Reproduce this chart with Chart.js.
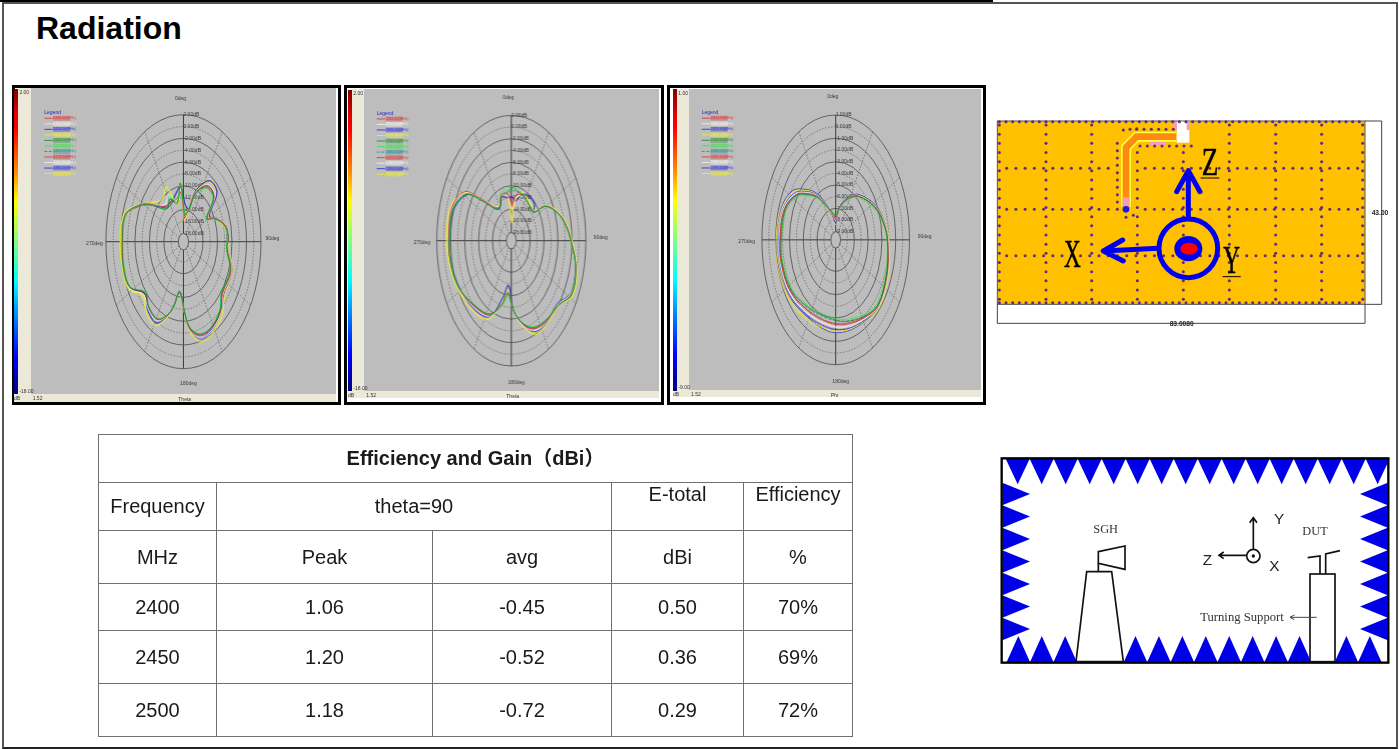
<!DOCTYPE html>
<html>
<head>
<meta charset="utf-8">
<title>Radiation</title>
<script src="https://cdn.jsdelivr.net/npm/chart.js@4"></script>
<style>
html, body { margin: 0; padding: 0; background: #fff; width: 1399px; height: 749px; overflow: hidden; }
body { position: relative; font-family: "Liberation Sans", Arial, sans-serif; color: #111; }
.abs { position: absolute; }
#title { left: 36px; top: 9px; font-size: 32px; font-weight: bold; line-height: 38px; color: #000; }
.box { position: absolute; border: 3px solid #000; box-sizing: border-box; background: #fff; }
.layer { position: absolute; filter: blur(0.5px); }
.cbar { position: absolute; background: linear-gradient(to bottom, #7f0000 0%, #e00000 8%, #ff0000 13%, #ff8000 26%, #ffff00 37%, #80ff80 50%, #00ffff 63%, #0080ff 75%, #0000ff 88%, #00007f 100%); }
.beige { position: absolute; background: #ece9d8; }
.grey { position: absolute; background: #bdbdbd; }
.tiny { position: absolute; font-size: 5px; line-height: 6px; color: #333; white-space: nowrap; }
canvas { position: absolute; }
#gainTable { position: absolute; left: 98px; top: 434px; width: 754px; height: 302px; border-collapse: collapse; table-layout: fixed; font-size: 20px; color: #1a1a1a; }
#gainTable td { border: 1px solid #707070; text-align: center; padding: 0; }
#gainTable td.up { vertical-align: top; padding-top: 0; }
#gainTable .head { font-weight: bold; font-family: "Liberation Sans", "Noto Sans CJK SC", sans-serif; padding-bottom: 4px; }
svg { position: absolute; filter: blur(0.45px); }
</style>
</head>
<body>
<div class="abs" style="left:0;top:0;width:993px;height:2px;background:#000"></div>
<div class="abs" style="left:2px;top:2px;width:1392px;height:743px;border:2px solid #555;border-bottom-color:#222;box-sizing:content-box"></div>
<div id="title" class="abs">Radiation</div>
<div id="panels"></div>
<table id="gainTable"></table>

<svg id="pcb" style="left:990px;top:110px" width="400" height="225" viewBox="0 0 1200 675"></svg>

<svg style="left:995px;top:450px" width="400" height="220" viewBox="0 0 1200 660">
  <g id="spikes" fill="#0000e6"></g>
  <rect x="20" y="25" width="1160" height="613" fill="none" stroke="#000" stroke-width="7"/>
  <g fill="#fff" stroke="#111" stroke-width="5">
    <polygon points="275,365 350,365 385,635 243,635"/>
    <polygon points="310,305 390,288 390,358 310,340"/>
    <rect x="945" y="372" width="75" height="263"/>
  </g>
  <g fill="none" stroke="#111" stroke-width="5">
    <path d="M310 340V365"/>
    <path d="M975 372V318L938 323M992 372V312L1035 302"/>
    <path d="M775 298V205M764 218L775 203L786 218M755 316H672M686 306L672 316L686 326"/>
    <circle cx="775" cy="318" r="20"/>
    <path d="M965 502H885M898 495L885 502L898 509" stroke-width="3" stroke="#444"/>
  </g>
  <circle cx="775" cy="318" r="5" fill="#111"/>
  <g font-family="Liberation Serif, serif" font-size="37" fill="#333" text-anchor="middle">
    <text x="332" y="250">SGH</text>
    <text x="960" y="256">DUT</text>
    <text x="741" y="512" font-size="38">Turning  Support</text>
  </g>
  <g font-family="Liberation Sans, sans-serif" font-size="46" fill="#222" text-anchor="middle">
    <text x="852" y="222">Y</text>
    <text x="637" y="346">Z</text>
    <text x="838" y="364">X</text>
  </g>
</svg>

<script>
// ===== Data =====
const freqLabels = ['2400.00(MHz)', '2410.00(MHz)', '2420.00(MHz)', '2430.00(MHz)', '2440.00(MHz)', '2450.00(MHz)', '2460.00(MHz)', '2470.00(MHz)', '2480.00(MHz)', '2490.00(MHz)', '2500.00(MHz)'];
const seriesColors = ['#e02828', '#f4f4f4', '#2020d8', '#f2f22a', '#0c8a1c', '#2ee83c', '#148c8c', '#e02828', '#f4f4f4', '#2020d8', '#f2f22a'];
const angleLabels = ['0deg', '90deg', '180deg', '270deg'];

const ringLabels1 = ['2.00dB', '0.00dB', '-2.00dB', '-4.00dB', '-6.00dB', '-8.00dB', '-10.00dB', '-12.00dB', '-14.00dB', '-16.00dB', '-18.00dB'];
const ringLabels3 = ['1.00dB', '0.00dB', '-1.00dB', '-2.00dB', '-3.00dB', '-4.00dB', '-5.00dB', '-6.00dB', '-7.00dB', '-8.00dB', '-9.00dB'];

// theta cut, phi = 0
const angles1 = [4, 15, 22, 35, 48, 59, 66, 77, 87, 95, 111, 129, 139, 153, 164, 173, 178, 187, 194, 200, 209, 221, 231, 242, 253, 269, 286, 296, 304, 320, 333, 345, 355];
const gain1_2400 = [-15.5, -13.5, -10.4, -7.8, -8, -11.6, -9.7, -7.5, -7.1, -7.3, -5.4, -5.5, -3.8, -2.8, -2.9, -4.5, -7.1, -10.7, -8.1, -6.2, -4.6, -4.9, -5.5, -2.9, -2.4, -2.6, -2.9, -5.8, -8.2, -11.6, -11.8, -12, -11];
const gain1_2410 = [-15.2, -13.6, -10.3, -7.6, -7.8, -11.5, -9.6, -7.5, -7.2, -7.2, -5.2, -5.3, -3.6, -2.5, -2.5, -4.3, -7, -10.6, -8, -6, -4.2, -4.5, -5.2, -2.6, -2.2, -2.3, -2.8, -5.7, -8.1, -11.4, -10.8, -12.2, -10.8];
const gain1_2420 = [-13, -13.7, -10.1, -6.9, -7, -11.2, -9.6, -7.6, -7.3, -7.2, -5.2, -5.2, -3.7, -2.7, -2.5, -4.4, -7.1, -10.9, -8.2, -6, -3.9, -4.4, -5.6, -2.9, -2.3, -2.5, -2.8, -5.5, -8, -12, -12.2, -11.2, -10.2];
const gain1_2430 = [-15.8, -13.8, -10.2, -7.1, -7.4, -11.4, -9.8, -7.8, -7.3, -7, -5.1, -5, -3.3, -2.2, -2.1, -4.1, -7, -10.8, -8.1, -5.7, -3.4, -3.9, -5, -2.4, -2, -2, -2.4, -5.4, -7.8, -10.2, -9.2, -12.8, -9.8];
const gain1_2440 = [-15, -14, -10.7, -8.2, -8.2, -11.9, -9.9, -7.6, -7, -7.4, -5.6, -5.8, -4, -3, -3.2, -4.8, -7.2, -10.8, -8, -6.1, -4.4, -4.7, -5.8, -2.8, -2.2, -2.4, -2.7, -5.6, -8.3, -12.2, -11.3, -12.8, -9.5];
const gain1_2450 = [-14.6, -14.2, -11, -8.4, -8.5, -12.1, -10, -7.7, -7.2, -7.5, -5.7, -5.9, -4.2, -3.1, -3.3, -4.9, -7.3, -10.9, -8.1, -6.2, -4.6, -4.8, -6, -3, -2.5, -2.7, -2.9, -5.7, -8.4, -12, -10.8, -12.5, -9.4];
const gain1_2460 = [-14.8, -13.9, -10.6, -8, -8.1, -11.8, -9.8, -7.5, -7, -7.4, -5.5, -5.7, -4, -3, -3.1, -4.7, -7.2, -10.8, -8, -6.1, -4.5, -4.8, -5.8, -2.9, -2.3, -2.5, -2.8, -5.7, -8.3, -12.1, -11.4, -12.6, -9.8];
const gain1_2470 = [-15.4, -13.7, -10.5, -7.9, -8, -11.7, -9.7, -7.5, -7.1, -7.3, -5.5, -5.6, -3.9, -2.9, -3, -4.6, -7.1, -10.7, -8.1, -6.2, -4.5, -4.8, -5.6, -2.8, -2.3, -2.5, -2.8, -5.8, -8.2, -11.8, -11.9, -12.3, -10.9];
const gain1_2480 = [-15.1, -13.6, -10.3, -7.7, -7.8, -11.6, -9.6, -7.6, -7.2, -7.2, -5.3, -5.4, -3.6, -2.6, -2.6, -4.4, -7.1, -10.6, -8, -6, -4.1, -4.4, -5.3, -2.7, -2.2, -2.3, -2.7, -5.6, -8.1, -11.2, -10.5, -12.4, -10.6];
const gain1_2490 = [-13.2, -13.8, -10, -6.8, -6.9, -11.1, -9.5, -7.7, -7.3, -7.1, -5.1, -5.1, -3.5, -2.4, -2.3, -4.3, -7.1, -11, -8.3, -5.9, -3.7, -4.2, -5.5, -2.7, -2.2, -2.4, -2.7, -5.5, -8, -11.6, -11.8, -11, -10];
const gain1_2500 = [-16, -14, -10.2, -6.6, -6.9, -11.2, -9.7, -7.9, -7.4, -6.9, -5, -4.8, -3, -1.9, -1.8, -3.9, -6.9, -10.9, -8.2, -5.6, -3.2, -3.6, -4.8, -2.2, -1.9, -1.9, -2.3, -5.3, -7.7, -10, -9, -13, -9.9];

const angles2 = [2, 10, 21, 33, 46, 53, 59, 70, 80, 92, 104, 118, 129, 144, 157, 168, 177, 186, 194, 206, 223, 242, 259, 274, 289, 302, 309, 326, 340, 352];
const gain2_2400 = [-13.6, -11.6, -11, -11.3, -11.4, -11.2, -7.9, -5.3, -3.5, -2, -0.3, 0.1, -2, -2.4, -3, -5, -7.4, -10.2, -8.2, -5.2, -4, -2.3, -1.5, -1.4, -1.5, -3.6, -7.8, -12.6, -11.3, -11.4];
const gain2_2410 = [-14, -11.9, -11.2, -11.2, -11.3, -11.1, -7.8, -5.2, -3.4, -1.9, -0.2, -0.1, -2.2, -2.1, -2.7, -4.8, -7.3, -10.1, -8.3, -5, -3.7, -2.2, -1.5, -1.4, -1.7, -3.9, -8, -12.4, -11.2, -11.6];
const gain2_2420 = [-11.8, -12.4, -11, -10.4, -10.3, -11.2, -7.9, -5.3, -3.5, -2, -0.4, -0.2, -2.4, -2.2, -2.6, -5, -7.5, -11.6, -9.2, -5, -3.6, -2.5, -1.7, -1.7, -2.2, -4.6, -8.4, -12.8, -11.4, -11.9];
const gain2_2430 = [-16, -12.2, -10.6, -10.9, -11, -10.9, -7.7, -5.1, -3.3, -1.8, -0.1, 0.5, -1.9, -1.9, -2.3, -4.7, -7.5, -10.9, -8.8, -4.6, -3.2, -2, -1.2, -0.9, -1.2, -3.9, -8.2, -12.5, -11, -11.5];
const gain2_2440 = [-10.2, -10.7, -10.9, -11.2, -11.5, -11.4, -8, -5.4, -3.6, -2, -0.3, 0.25, -1.9, -2.6, -3.3, -5.1, -7.4, -10.5, -8.3, -5.5, -4.2, -2.3, -1.55, -1.55, -1.9, -4.4, -8.5, -12.9, -11, -11];
const gain2_2450 = [-9.9, -10.5, -10.7, -11.3, -11.6, -11.5, -8.1, -5.5, -3.7, -2.1, -0.4, 0.15, -2, -2.7, -3.4, -5.2, -7.5, -9.9, -7.9, -5.4, -4.3, -2.4, -1.7, -1.7, -2, -4.5, -8.6, -12.7, -10.7, -10.6];
const gain2_2460 = [-10.8, -10.9, -10.9, -11.2, -11.4, -11.3, -8, -5.4, -3.6, -2, -0.3, 0.2, -1.9, -2.5, -3.2, -5.1, -7.4, -10.3, -8.2, -5.4, -4.1, -2.3, -1.6, -1.6, -1.8, -4.3, -8.4, -12.8, -11, -11.2];
const gain2_2470 = [-13, -11.4, -11, -11.2, -11.4, -11.2, -7.9, -5.3, -3.5, -2, -0.3, 0.15, -2, -2.4, -3.1, -5, -7.4, -10.3, -8.2, -5.3, -4, -2.3, -1.5, -1.4, -1.6, -3.8, -8, -12.7, -11.3, -11.3];
const gain2_2480 = [-14.2, -11.8, -11.2, -11.1, -11.3, -11, -7.8, -5.2, -3.4, -1.9, -0.2, 0, -2.1, -2.2, -2.8, -4.8, -7.3, -10.2, -8.3, -5.1, -3.8, -2.2, -1.4, -1.3, -1.6, -3.8, -8, -12.4, -11.2, -11.7];
const gain2_2490 = [-12, -12.6, -10.9, -10.2, -10.2, -11.1, -7.8, -5.2, -3.4, -1.9, -0.3, -0.1, -2.3, -2, -2.5, -4.9, -7.5, -11.8, -9.4, -4.9, -3.5, -2.4, -1.6, -1.6, -2.1, -4.5, -8.3, -12.9, -11.5, -12];
const gain2_2500 = [-16.4, -12.4, -10.5, -10.8, -10.9, -10.8, -7.6, -5, -3.2, -1.7, 0, 0.6, -1.8, -1.7, -2, -4.6, -7.6, -11, -8.9, -4.4, -3, -1.9, -1.1, -0.8, -1.1, -3.8, -8.1, -12.4, -10.9, -11.6];

// phi cut
const angles3 = [0, 8, 16, 28, 41, 64, 82, 95, 112, 132, 147, 169, 189, 214, 236, 255, 269, 289, 304, 316, 325, 333, 345];
const gain3_2400 = [-8, -7.3, -6.6, -5.7, -4.75, -3.3, -2.4, -2.05, -1.65, -1.35, -1.8, -2.3, -2.55, -2.4, -1.8, -1.55, -1.6, -1.8, -2.75, -4.2, -5.2, -6.25, -7.3];
const gain3_2410 = [-8.1, -7.35, -6.55, -5.6, -4.65, -3.25, -2.35, -2, -1.6, -1.25, -1.7, -2.05, -2.3, -2.15, -1.6, -1.4, -1.45, -1.65, -2.65, -4.1, -5.1, -6.2, -7.35];
const gain3_2420 = [-8.2, -7.3, -6.45, -5.5, -4.55, -3.2, -2.4, -2.1, -1.7, -1.3, -1.6, -1.9, -2.1, -2, -1.5, -1.35, -1.4, -1.6, -2.5, -3.95, -5, -6.1, -7.4];
const gain3_2430 = [-8, -7.25, -6.5, -5.55, -4.6, -3.2, -2.35, -2, -1.6, -1.25, -1.55, -1.8, -1.95, -1.75, -1.3, -1.2, -1.2, -1.45, -2.4, -3.85, -4.95, -6.05, -7.3];
const gain3_2440 = [-7.7, -7.1, -6.5, -5.6, -4.7, -3.35, -2.45, -2.1, -1.75, -1.42, -1.92, -2.57, -2.95, -2.7, -1.95, -1.7, -1.78, -1.95, -2.9, -4.35, -5.3, -6.3, -7.1];
const gain3_2450 = [-7.6, -7.2, -6.7, -5.8, -4.9, -3.5, -2.5, -2.2, -1.9, -1.6, -2.1, -2.75, -3.05, -2.8, -2.1, -1.8, -1.85, -2.05, -3.1, -4.5, -5.45, -6.4, -7.2];
const gain3_2460 = [-7.8, -7.2, -6.55, -5.65, -4.75, -3.4, -2.45, -2.15, -1.8, -1.45, -1.95, -2.6, -2.85, -2.6, -1.95, -1.7, -1.7, -1.9, -2.85, -4.3, -5.25, -6.25, -7.2];
const gain3_2470 = [-7.9, -7.2, -6.5, -5.65, -4.7, -3.3, -2.4, -2.05, -1.7, -1.35, -1.85, -2.4, -2.6, -2.45, -1.8, -1.6, -1.6, -1.8, -2.8, -4.25, -5.2, -6.2, -7.25];
const gain3_2480 = [-8, -7.25, -6.5, -5.55, -4.6, -3.2, -2.35, -2, -1.6, -1.3, -1.7, -2.15, -2.35, -2.2, -1.6, -1.35, -1.4, -1.55, -2.55, -4, -5.05, -6.1, -7.3];
const gain3_2490 = [-8.3, -7.4, -6.45, -5.5, -4.55, -3.1, -2.3, -2, -1.6, -1.25, -1.5, -1.7, -1.8, -1.9, -1.35, -1.15, -1.2, -1.35, -2.15, -3.7, -4.8, -5.95, -7.35];
const gain3_2500 = [-8.4, -7.45, -6.5, -5.45, -4.5, -3.05, -2.2, -1.9, -1.45, -1.1, -1.45, -1.75, -1.8, -1.6, -1.15, -1, -1.05, -1.3, -2.3, -3.8, -4.9, -6, -7.4];

const tableFreq = ['2400', '2450', '2500'];
const tablePeak = ['1.06', '1.20', '1.18'];
const tableAvg = ['-0.45', '-0.52', '-0.72'];
const tableTotal = ['0.50', '0.36', '0.29'];
const tableEff = ['70%', '69%', '72%'];

// ===== Panel geometry =====
const INNER = 0.694;              // hole radius, in ring widths
const RINGS = 10;
const RMAX = INNER + RINGS;

const panels = [
  { id: 'p1', box: [12, 85, 329, 320], bar: [14, 89, 4.4, 305], beige: 30.7, grey: [30.7, 88, 305.3, 306], strip: 402, center: [183.3, 241.7], radius: [77.7, 127], legend: [44, 112.7],
    angles: angles1, rows: [gain1_2400, gain1_2410, gain1_2420, gain1_2430, gain1_2440, gain1_2450, gain1_2460, gain1_2470, gain1_2480, gain1_2490, gain1_2500],
    rings: ringLabels1, maxDb: 2, step: 2, top: '2.00', bottom: '-18.00', axis: 'Theta' },
  { id: 'p2', box: [344, 85, 320, 320], bar: [348, 90, 4.3, 301], beige: 364.3, grey: [364.3, 89, 294.4, 302], strip: 398, center: [511.3, 240.7], radius: [74.5, 125.3], legend: [377, 113.3],
    angles: angles2, rows: [gain2_2400, gain2_2410, gain2_2420, gain2_2430, gain2_2440, gain2_2450, gain2_2460, gain2_2470, gain2_2480, gain2_2490, gain2_2500],
    rings: ringLabels1, maxDb: 2, step: 2, top: '2.00', bottom: '-18.00', axis: 'Theta' },
  { id: 'p3', box: [667, 85, 319, 320], bar: [673, 89, 4.3, 302], beige: 689, grey: [689, 88.7, 292, 301.3], strip: 397, center: [835.7, 239.7], radius: [73.8, 125], legend: [701.7, 112.3],
    angles: angles3, rows: [gain3_2400, gain3_2410, gain3_2420, gain3_2430, gain3_2440, gain3_2450, gain3_2460, gain3_2470, gain3_2480, gain3_2490, gain3_2500],
    rings: ringLabels3, maxDb: 1, step: 1, top: '1.00', bottom: '-9.00', axis: 'Phi' },
];

// ===== Helpers =====
function toRadius(db, panel) {
  return RMAX - (panel.maxDb - db) / panel.step;
}

function polarPoints(angles, row, panel) {
  const pts = angles.map((a, i) => {
    const r = toRadius(row[i], panel), t = a * Math.PI / 180;
    return { x: r * Math.sin(t), y: r * Math.cos(t) };
  });
  pts.push(pts[0]); // close the trace
  return pts;
}

function addDiv(parent, cls, x, y, w, h) {
  const d = document.createElement('div');
  d.className = cls;
  d.style.cssText = `left:${x}px;top:${y}px;width:${w}px;height:${h}px`;
  parent.appendChild(d);
  return d;
}

function addTiny(parent, text, x, y) {
  const d = document.createElement('div');
  d.className = 'tiny';
  d.textContent = text;
  d.style.left = x + 'px';
  d.style.top = y + 'px';
  parent.appendChild(d);
}

// ===== Polar grid, labels and legend on a cartesian chart =====
const polarGrid = {
  id: 'polarGrid',
  beforeDatasetsDraw(chart, args, opts) {
    const { ctx, scales: { x, y } } = chart;
    const cx = x.getPixelForValue(0), cy = y.getPixelForValue(0);
    const rx = x.getPixelForValue(1) - cx, ry = cy - y.getPixelForValue(1);
    ctx.save();
    // spokes
    for (let a = 0; a < 360; a += 30) {
      const t = a * Math.PI / 180, main = a % 90 === 0;
      ctx.beginPath();
      ctx.moveTo(cx + INNER * rx * Math.sin(t), cy - INNER * ry * Math.cos(t));
      ctx.lineTo(cx + RMAX * rx * Math.sin(t), cy - RMAX * ry * Math.cos(t));
      ctx.strokeStyle = main ? '#3c3c3c' : '#5e5e5e';
      ctx.lineWidth = main ? 1 : 0.7;
      ctx.setLineDash(main ? [] : [1.5, 1.5]);
      ctx.stroke();
    }
    // rings
    for (let k = 0; k <= RINGS; k++) {
      const solid = k % 2 === 0;
      ctx.beginPath();
      ctx.ellipse(cx, cy, (INNER + k) * rx, (INNER + k) * ry, 0, 0, Math.PI * 2);
      ctx.strokeStyle = solid ? '#4c4c4c' : '#5e5e5e';
      ctx.lineWidth = solid ? 0.8 : 0.7;
      ctx.setLineDash(solid ? [] : [1.5, 1.5]);
      ctx.stroke();
    }
    ctx.setLineDash([]);
    // ring and angle labels
    ctx.font = '5px "Liberation Sans"';
    ctx.fillStyle = '#3a3a3a';
    ctx.textBaseline = 'middle';
    ctx.textAlign = 'left';
    opts.rings.forEach((label, i) => {
      ctx.fillText(label, cx, cy - (RMAX - i) * ry);
    });
    ctx.textAlign = 'center';
    ctx.fillText(angleLabels[0], cx - 3, cy - 143);
    ctx.fillText(angleLabels[1], cx + 89, cy - 3);
    ctx.fillText(angleLabels[2], cx + 5, cy + 142);
    ctx.fillText(angleLabels[3], cx - 89, cy + 2);
    // legend
    const [lx, ly] = opts.legend;
    ctx.textAlign = 'left';
    ctx.fillStyle = '#2222cc';
    ctx.fillText('Legend', lx, ly);
    chart.data.datasets.forEach((ds, i) => {
      const row = ly + 5.6 + 5.53 * i;
      ctx.strokeStyle = ds.borderColor;
      ctx.lineWidth = 0.8;
      ctx.setLineDash(ds.borderDash || []);
      ctx.beginPath();
      ctx.moveTo(lx, row);
      ctx.lineTo(lx + 8.3, row);
      ctx.stroke();
      ctx.setLineDash([]);
      ctx.globalAlpha = 0.35;
      ctx.fillStyle = ds.borderColor;
      ctx.fillRect(lx + 8.7, row - 2.4, 17.3, 4.8);
      ctx.globalAlpha = 0.8;
      ctx.font = '3.6px "Liberation Sans"';
      ctx.fillText(ds.label, lx + 9, row);
      ctx.globalAlpha = 1;
      ctx.font = '5px "Liberation Sans"';
    });
    ctx.restore();
  },
};

// ===== Build the panels =====
const panelsEl = document.getElementById('panels');

panels.forEach(p => {
  const [bx, by, bw, bh] = p.box;
  const [gx, gy, gw, gh] = p.grey;
  const [cx, cy] = p.center;
  const [rx, ry] = p.radius;

  const box = document.createElement('div');
  box.className = 'box';
  box.style.cssText = `left:${bx}px;top:${by}px;width:${bw}px;height:${bh}px`;
  panelsEl.appendChild(box);

  const layer = document.createElement('div');
  layer.className = 'layer';
  layer.style.cssText = 'left:0;top:0;width:1399px;height:749px';
  panelsEl.appendChild(layer);

  addDiv(layer, 'beige', p.bar[0] + p.bar[2], gy, p.beige - p.bar[0] - p.bar[2], p.strip - gy);
  addDiv(layer, 'beige', p.bar[0], gy + gh, gx + gw - p.bar[0], p.strip - gy - gh);
  addDiv(layer, 'grey', gx, gy, gw, gh);
  addDiv(layer, 'cbar', p.bar[0], p.bar[1], p.bar[2], p.bar[3]);
  addTiny(layer, p.top, p.bar[0] + p.bar[2] + 1, gy + 1);
  addTiny(layer, p.bottom, p.bar[0] + p.bar[2] + 1, gy + gh - 6);
  addTiny(layer, 'dB', p.bar[0], gy + gh + 1);
  addTiny(layer, '1.52', gx + 2, gy + gh + 1);
  addTiny(layer, p.axis, cx - 5, gy + gh + 2);

  const canvas = document.createElement('canvas');
  canvas.id = p.id;
  canvas.width = gw;
  canvas.height = gh;
  canvas.style.cssText = `left:${gx}px;top:${gy}px;width:${gw}px;height:${gh}px`;
  layer.appendChild(canvas);

  new Chart(canvas, {
    type: 'scatter',
    data: {
      datasets: freqLabels.map((label, i) => ({
        label,
        data: polarPoints(p.angles, p.rows[i], p),
        showLine: true,
        tension: 0.35,
        borderColor: seriesColors[i],
        borderWidth: 0.7,
        borderDash: i === 6 ? [3, 1.5] : undefined,
        pointRadius: 0,
        order: (i === 4 || i === 5) ? 0 : 1,
        clip: false,
      })),
    },
    options: {
      responsive: false,
      animation: false,
      devicePixelRatio: 1,
      layout: { padding: { left: cx - rx - gx, right: gx + gw - cx - rx, top: cy - ry - gy, bottom: gy + gh - cy - ry } },
      scales: {
        x: { type: 'linear', display: false, min: -RMAX, max: RMAX },
        y: { type: 'linear', display: false, min: -RMAX, max: RMAX },
      },
      plugins: {
        legend: { display: false },
        tooltip: { enabled: false },
        polarGrid: { rings: p.rings, legend: [p.legend[0] - gx, p.legend[1] - gy] },
      },
    },
    plugins: [polarGrid],
  });
});

// ===== Table =====
const table = document.getElementById('gainTable');
const rowHeights = [48, 48, 53, 47, 53, 53];
const colWidths = [118, 216, 179, 132, 109];
let html = '<colgroup>' + colWidths.map(w => `<col style="width:${w}px">`).join('') + '</colgroup>';
html += `<tr style="height:${rowHeights[0]}px"><td colspan="5" class="head">Efficiency and Gain（dBi）</td></tr>`;
html += `<tr style="height:${rowHeights[1]}px"><td>Frequency</td><td colspan="2">theta=90</td><td class="up">E-total</td><td class="up">Efficiency</td></tr>`;
html += `<tr style="height:${rowHeights[2]}px"><td>MHz</td><td>Peak</td><td>avg</td><td>dBi</td><td>%</td></tr>`;
tableFreq.forEach((f, i) => {
  html += `<tr style="height:${rowHeights[3 + i]}px"><td>${f}</td><td>${tablePeak[i]}</td><td>${tableAvg[i]}</td><td>${tableTotal[i]}</td><td>${tableEff[i]}</td></tr>`;
});
table.innerHTML = html;

// ===== PCB sketch =====
const pcb = document.getElementById('pcb');
let s = '<rect x="22" y="33" width="1103" height="550" fill="#ffc000" stroke="#555" stroke-width="3"/>';
s += '<path d="M22 583V640H1125V583M1125 33H1175V583H1125" fill="none" stroke="#444" stroke-width="3"/>';
s += '<rect x="560" y="35" width="38" height="63" fill="#fff"/>';
s += '<path d="M552 36h9v24h-9zM590 36h9v24h-9zM478 82h50v26h-50z" fill="#f79ac0"/>';
const dot = (x, y) => `<circle cx="${x}" cy="${y}" r="4.6" fill="#5e2f78"/>`;
[35, 578].forEach(y => { for (let x = 28; x < 1122; x += 20) s += dot(x, y); });
[175, 298, 437].forEach(y => {
  for (let x = 50; x < 1110; x += 27.7) {
    if (!(x > 380 && x < 440 && y < 300)) s += dot(x, y);
  }
});
[28, 168, 305, 442, 580, 718, 857, 995, 1118].forEach(x => {
  for (let y = 45; y < 575; y += 27.5) {
    if (x === 442 && y < 110) continue;
    if (x === 580 && y < 115) continue;
    s += dot(x, y);
  }
});
for (let y = 100; y < 315; y += 22) s += dot(382, y);
for (let x = 400; x < 460; x += 20) s += dot(x, 60 - (x - 400) * 0.1);
for (let x = 440; x < 560; x += 22) s += dot(x, 58);
for (let x = 450; x < 610; x += 22) s += dot(x, 108);
s += dot(408, 322) + dot(430, 316);
s += '<path d="M408 290V112L440 80H558" fill="none" stroke="#ffff40" stroke-width="30"/>';
s += '<path d="M408 290V112L440 80H558" fill="none" stroke="#ff8a10" stroke-width="20"/>';
s += '<rect x="398" y="262" width="20" height="28" fill="#f79ac0"/>';
s += '<circle cx="408" cy="298" r="10" fill="#1a1ae0"/>';
s += '<g fill="none" stroke="#0000f0" stroke-width="15" stroke-linecap="round" stroke-linejoin="round">';
s += '<circle cx="595" cy="415" r="88"/><path d="M595 325V182M560 245L595 182L630 245M505 415L340 423M398 390L340 423L400 453"/></g>';
s += '<ellipse cx="595" cy="416" rx="42" ry="38" fill="#0000f0"/><ellipse cx="597" cy="416" rx="26" ry="18" fill="#ff0000"/>';
s += '<g font-family="Liberation Serif, serif" font-size="118" fill="#000" stroke="#000" stroke-width="1.5" text-anchor="middle">';
s += '<text transform="translate(660,195) scale(.69,1)">Z</text><text transform="translate(247,470) scale(.59,1)">X</text><text transform="translate(725,490) scale(.59,1)">Y</text></g>';
s += '<path d="M632 204H688M698 500H752" stroke="#000" stroke-width="3"/>';
s += '<g font-family="Liberation Sans, sans-serif" font-size="20" fill="#222" text-anchor="middle" font-weight="bold"><text x="575" y="647">83.0080</text><text x="1170" y="316">43.00</text></g>';
pcb.innerHTML = s;

// ===== Chamber absorbers =====
const spikes = document.getElementById('spikes');
let t = '';
for (let i = 0; i < 16; i++) {
  const a = 32 + 72 * i;
  t += `<polygon points="${a},26 ${a + 72},26 ${a + 36},103"/>`;
  const b = 35 + 70.3 * i;
  t += `<polygon points="${b},636 ${b + 70},636 ${b + 35},558"/>`;
}
for (let i = 0; i < 7; i++) {
  const a = 98 + 67.5 * i;
  t += `<polygon points="22,${a} 22,${a + 67.5} 105,${a + 34}"/>`;
  t += `<polygon points="1178,${a} 1178,${a + 67.5} 1095,${a + 34}"/>`;
}
spikes.innerHTML = t;
</script>
</body>
</html>
